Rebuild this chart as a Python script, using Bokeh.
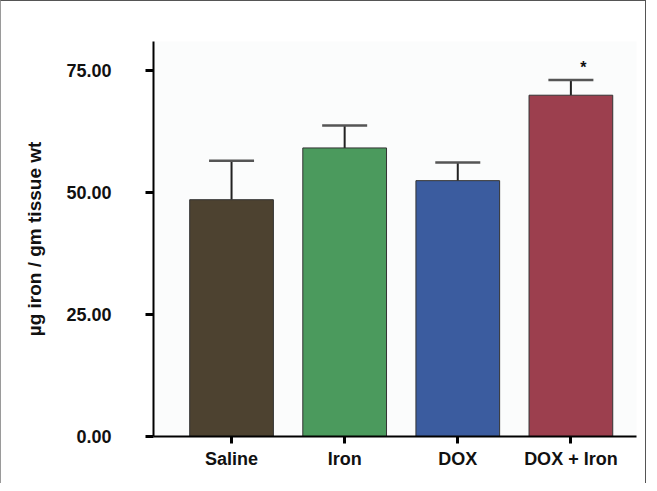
from bokeh.plotting import figure
from bokeh.models import (ColumnDataSource, Range1d, FixedTicker, NumeralTickFormatter,
                          Whisker, TeeHead)
from bokeh.core.properties import value
from bokeh.embed import file_html
from bokeh.resources import INLINE

# ---- data ----
categories = ["Saline", "Iron", "DOX", "DOX + Iron"]
means = [48.5, 59.1, 52.4, 69.9]
errors = [8.0, 4.6, 3.7, 3.1]
colors = ["#4d4230", "#4b9a5d", "#3b5c9f", "#9c3f4e"]
y_ticks = [0, 25, 50, 75]
star_label = "*"

xs = list(range(1, len(categories) + 1))
upper = [m + e for m, e in zip(means, errors)]

src = ColumnDataSource(dict(x=xs, top=means, upper=upper, color=colors))

FONT = "Liberation Sans"

p = figure(width=646, height=483, output_backend="svg", toolbar_location=None,
           x_range=Range1d(0.31, 4.58), y_range=Range1d(0, 80.9),
           min_border_left=152, min_border_right=11, min_border_top=40,
           min_border_bottom=48)

p.background_fill_color = "#fbfcfc"
p.border_fill_color = "white"
p.outline_line_color = None
p.xgrid.visible = False
p.ygrid.visible = False
p.styles = {"border-left": "1px solid #9a9a9a", "border-top": "1px solid #555555",
            "border-right": "1px solid #555555"}

p.vbar(x="x", top="top", width=0.74, bottom=0, source=src,
       fill_color="color", line_color="#333333", line_width=1)

w = Whisker(base="x", upper="upper", lower="top", source=src,
            line_color="#222222", line_width=2,
            upper_head=TeeHead(size=45, line_color="#555555", line_width=2.5),
            lower_head=None)
p.add_layout(w)

p.text(x=[xs[3] + 0.11], y=[upper[3] + 2.6], text=[star_label],
       text_font=value(FONT), text_font_style="bold", text_font_size="16px",
       text_align="center", text_baseline="middle", text_color="#111111")

# y axis
ya = p.yaxis[0]
ya.ticker = FixedTicker(ticks=y_ticks)
ya.formatter = NumeralTickFormatter(format="0.00")
ya.minor_tick_line_color = None
ya.major_tick_in = 0
ya.major_tick_out = 8
ya.major_tick_line_width = 3
ya.axis_line_width = 2
ya.axis_line_color = "black"
ya.major_label_standoff = 34
ya.major_label_text_font = FONT
ya.major_label_text_font_style = "bold"
ya.major_label_text_font_size = "18px"
ya.major_label_text_color = "#111111"
ya.axis_label = "µg iron / gm tissue wt"
ya.axis_label_text_font = FONT
ya.axis_label_text_font_style = "bold"
ya.axis_label_text_font_size = "19px"
ya.axis_label_text_color = "#111111"
ya.axis_label_standoff = 18

# x axis
xa = p.xaxis[0]
xa.ticker = FixedTicker(ticks=xs)
xa.major_label_overrides = {x: c for x, c in zip(xs, categories)}
xa.minor_tick_line_color = None
xa.major_tick_in = 0
xa.major_tick_out = 7
xa.major_tick_line_width = 3
xa.axis_line_width = 2
xa.axis_line_color = "black"
xa.major_label_standoff = 5
xa.major_label_text_font = FONT
xa.major_label_text_font_style = "bold"
xa.major_label_text_font_size = "18px"
xa.major_label_text_color = "#111111"

open("out.html", "w").write(file_html(p, INLINE))
